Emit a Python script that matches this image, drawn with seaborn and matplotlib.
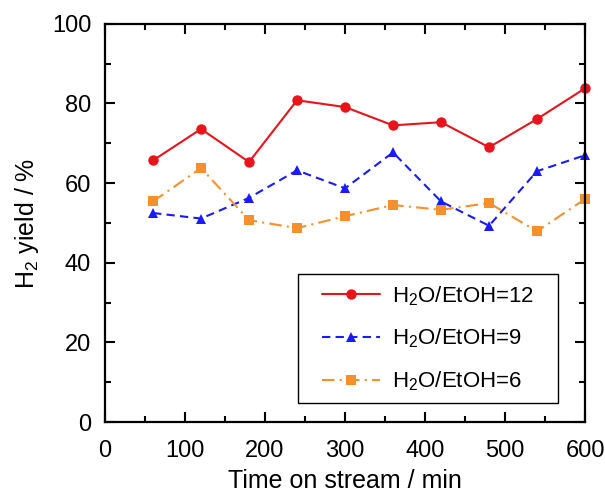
import matplotlib
matplotlib.use("Agg")
import matplotlib.pyplot as plt
import pandas as pd
import seaborn as sns
from matplotlib.patches import Rectangle
from matplotlib.ticker import MultipleLocator

time_min = [60, 120, 180, 240, 300, 360, 420, 480, 540, 600]
ratio_12 = [65.7, 73.6, 65.3, 80.8, 79.1, 74.5, 75.3, 69.0, 76.1, 83.8]
ratio_9 = [52.5, 51.1, 56.3, 63.2, 58.7, 67.7, 55.4, 49.3, 63.0, 67.0]
ratio_6 = [55.4, 63.8, 50.7, 48.7, 51.7, 54.5, 53.3, 55.0, 47.9, 56.0]
series_names = ["H$_2$O/EtOH=12", "H$_2$O/EtOH=9", "H$_2$O/EtOH=6"]

df = pd.concat([
    pd.DataFrame({"time": time_min, "yield": vals, "series": name})
    for name, vals in zip(series_names, [ratio_12, ratio_9, ratio_6])
])

sns.set_style("ticks")
plt.rcParams["font.family"] = ["Liberation Sans", "DejaVu Sans"]
plt.rcParams["mathtext.default"] = "regular"
plt.rcParams["xtick.direction"] = "in"
plt.rcParams["ytick.direction"] = "in"
plt.rcParams["text.color"] = "black"
plt.rcParams["axes.labelcolor"] = "black"
plt.rcParams["xtick.color"] = "black"
plt.rcParams["ytick.color"] = "black"

palette = {series_names[0]: "#e8141c", series_names[1]: "#1a1aff", series_names[2]: "#f7902a"}
markers = {series_names[0]: "o", series_names[1]: "^", series_names[2]: "s"}
dashes = {series_names[0]: "", series_names[1]: (4, 2.5), series_names[2]: (6, 2.5, 1, 2.5)}

fig = plt.figure(figsize=(6.05, 4.96), dpi=100)
ax = fig.add_axes([0.1736, 0.149, 0.7934, 0.803])

sns.lineplot(data=df, x="time", y="yield", hue="series", style="series",
             palette=palette, markers=markers, dashes=dashes,
             markersize=7.5, markeredgewidth=0, linewidth=1.5, ax=ax)
for ln in ax.lines:
    ln.set_clip_on(False)

ax.set_xlim(0, 600)
ax.set_ylim(0, 100)
ax.xaxis.set_major_locator(MultipleLocator(100))
ax.xaxis.set_minor_locator(MultipleLocator(50))
ax.yaxis.set_major_locator(MultipleLocator(20))
ax.yaxis.set_minor_locator(MultipleLocator(10))
ax.tick_params(which="both", top=True, right=True, width=1.5, labelsize=17)
ax.tick_params(axis="x", which="major", pad=13)
ax.tick_params(axis="y", which="major", pad=10)
ax.tick_params(which="major", length=7)
ax.tick_params(which="minor", length=4)
for sp in ax.spines.values():
    sp.set_linewidth(1.6)
    sp.set_color("black")

ax.set_xlabel("Time on stream / min", fontsize=18, labelpad=5)
ax.set_ylabel("H$_2$ yield / %", fontsize=18, labelpad=8)

# legend box is wider than its vertical padding, so draw the frame by hand
extra = 0.029
handles, labels = ax.get_legend_handles_labels()
leg = ax.legend(handles, labels, loc="lower right", bbox_to_anchor=(0.944 - extra, 0.048),
                fontsize=16, frameon=False, handlelength=2.6,
                handletextpad=0.55, borderpad=0.45, labelspacing=0.86,
                borderaxespad=0)
fig.canvas.draw()
bb = leg.get_window_extent().transformed(ax.transAxes.inverted())
ax.add_patch(Rectangle((bb.x0 - extra, bb.y0), bb.width + 2 * extra, bb.height,
                       transform=ax.transAxes, facecolor="white", edgecolor="black",
                       linewidth=1.0, zorder=4))
leg.set_zorder(5)

fig.savefig("out.png", dpi=100)
